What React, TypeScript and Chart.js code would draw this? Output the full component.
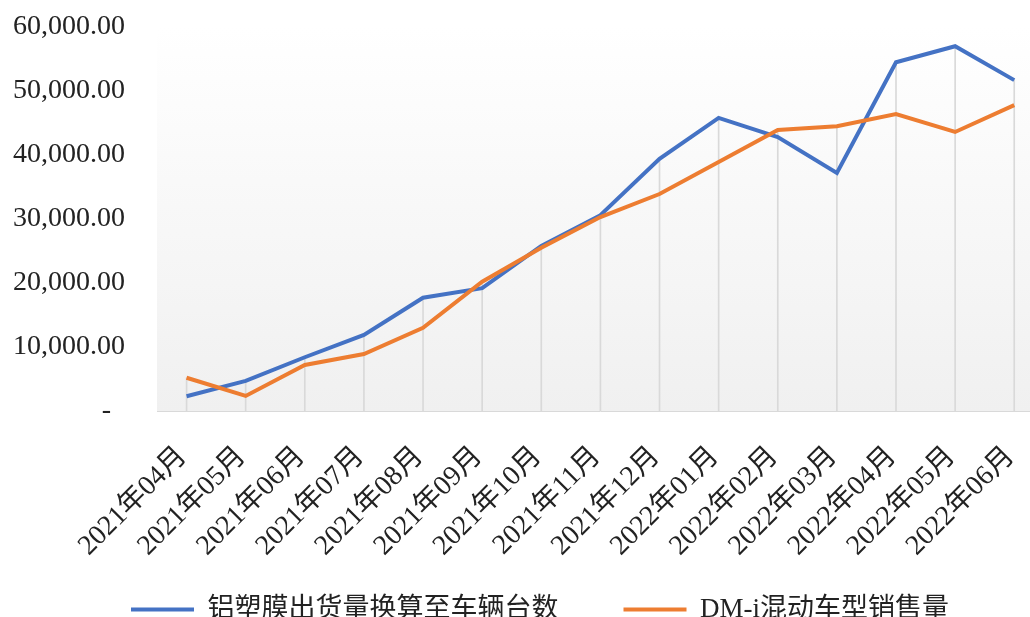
import React, { useEffect, useRef } from "react";
import { Chart, registerables } from "chart.js";

Chart.register(...registerables);

const categories = [
  "2021年04月", "2021年05月", "2021年06月", "2021年07月", "2021年08月",
  "2021年09月", "2021年10月", "2021年11月", "2021年12月", "2022年01月",
  "2022年02月", "2022年03月", "2022年04月", "2022年05月", "2022年06月",
];

const seriesNames = ["铝塑膜出货量换算至车辆台数", "DM-i混动车型销售量"];

const filmVehicles = [2300, 4700, 8400, 11900, 17700, 19200, 25800, 30600, 39400, 45800, 42800, 37200, 54500, 57000, 51700];
const dmiSales = [5200, 2350, 7200, 8900, 13000, 20200, 25500, 30300, 33900, 38900, 43900, 44500, 46400, 43600, 47800];

// drop lines run from the higher of the two series down to the axis
const dropLineTops = filmVehicles.map((v, i) => Math.max(v, dmiSales[i]));

const yMin = 0;
const yMax = 60000;
const yStep = 10000;

const seriesColors = ["#4472C4", "#ED7D31"];
const dropLineColor = "#d9d9d9";

const FONT = "'Liberation Serif', 'Times New Roman', 'Noto Sans CJK SC', serif";
const LEGEND_FONT = "'Liberation Serif', 'Noto Sans CJK SC', sans-serif";

const plotBackground = {
  id: "plotBackground",
  afterLayout(chart: any) {
    if (chart.scales.y) chart.scales.y.left = 0;
    if (chart.scales.x) chart.scales.x.bottom = chart.height;
  },
  beforeDraw(chart: any) {
    const { ctx, chartArea } = chart;
    if (!chartArea) return;
    const { left, top, right, bottom } = chartArea;
    const g = ctx.createLinearGradient(0, top, 0, bottom);
    g.addColorStop(0, "#ffffff");
    g.addColorStop(1, "#f0f0f0");
    ctx.save();
    ctx.fillStyle = g;
    ctx.fillRect(left, top, right - left, bottom - top);
    ctx.restore();
  },
};

export default function App() {
  const ref = useRef<HTMLCanvasElement | null>(null);

  useEffect(() => {
    if (!ref.current) return;
    const chart = new Chart(ref.current, {
      type: "line",
      data: {
        labels: categories,
        datasets: [
          {
            label: seriesNames[0],
            data: filmVehicles,
            borderColor: seriesColors[0],
            backgroundColor: seriesColors[0],
            borderWidth: 4,
            pointRadius: 0,
            tension: 0,
            fill: false,
            order: 2,
          },
          {
            label: seriesNames[1],
            data: dmiSales,
            borderColor: seriesColors[1],
            backgroundColor: seriesColors[1],
            borderWidth: 4,
            pointRadius: 0,
            tension: 0,
            fill: false,
            order: 1,
          },
          {
            type: "bar",
            label: "drop",
            data: dropLineTops,
            backgroundColor: dropLineColor,
            borderWidth: 0,
            barThickness: 1,
            order: 3,
          } as any,
        ],
      },
      options: {
        responsive: false,
        animation: false,
        devicePixelRatio: 1,
        layout: { padding: { left: 13, top: 27, right: 0, bottom: 0 } },
        plugins: {
          tooltip: { enabled: false },
          legend: {
            position: "bottom",
            labels: {
              boxWidth: 63,
              boxHeight: 4,
              padding: 65,
              color: "#222",
              font: { family: LEGEND_FONT, size: 27 },
              generateLabels(chart: any) {
                return chart.data.datasets
                  .map((ds: any, i: number) => ({ ds, i }))
                  .filter(({ ds }: any) => ds.type !== "bar")
                  .map(({ ds, i }: any) => ({
                    text: ds.label,
                    fillStyle: ds.borderColor,
                    strokeStyle: ds.borderColor,
                    lineWidth: 0,
                    hidden: false,
                    datasetIndex: i,
                    fontColor: "#222",
                  }));
              },
            },
          },
        },
        scales: {
          x: {
            offset: true,
            afterFit(scale: any) {
              scale.height = 120;
            },
            grid: { display: false, drawTicks: false },
            border: { color: "#d9d9d9", width: 1 },
            ticks: {
              autoSkip: false,
              minRotation: 45,
              maxRotation: 45,
              padding: 29,
              labelOffset: -4,
              color: "#222",
              font: { family: FONT, size: 28 },
            },
          },
          y: {
            min: yMin,
            max: yMax,
            afterFit(scale: any) {
              scale.width = 144;
            },
            grid: { display: false, drawTicks: true, tickLength: 29 },
            border: { display: false },
            ticks: {
              stepSize: yStep,
              padding: 3,
              color: "#222",
              font: { family: FONT, size: 28 },
              callback(v: any) {
                const n = Number(v);
                if (n === 0) return "-  ";
                return n.toLocaleString("en-US", { minimumFractionDigits: 2, maximumFractionDigits: 2 });
              },
            },
          },
        },
      },
      plugins: [plotBackground],
    });
    return () => chart.destroy();
  }, []);

  return (
    <div style={{ position: "absolute", left: 0, top: 0, width: 1030, height: 617, overflow: "hidden", background: "#fff" }}>
      <canvas ref={ref} width={1067} height={633} />
    </div>
  );
}
